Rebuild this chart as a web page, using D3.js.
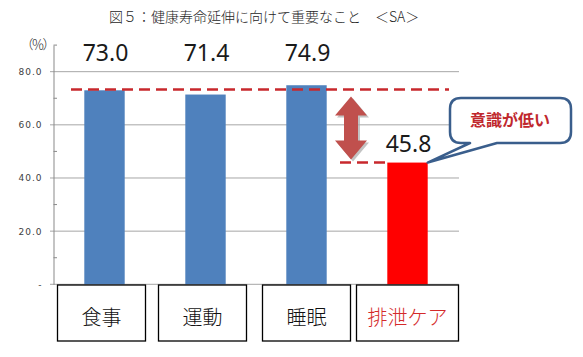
<!DOCTYPE html>
<html><head><meta charset="utf-8">
<script src="https://cdn.jsdelivr.net/npm/d3@7"></script>
<style>
html,body{margin:0;padding:0;background:#fff;}
svg{display:block;}
</style></head>
<body>
<svg id="chart" width="583" height="357"></svg>
<script>
const titleText = "図５：健康寿命延伸に向けて重要なこと　＜SA＞";
const unitLabel = "（％）";
const categories = ["食事", "運動", "睡眠", "排泄ケア"];
const values = [73.0, 71.4, 74.9, 45.8];
const highlight = [false, false, false, true];
const yTicks = [0, 20, 40, 60, 80];
const yTickLabels = ["-", "20.0", "40.0", "60.0", "80.0"];
const minorTicks = [10, 30, 50, 70, 90];
const refValue = 73.3;
const calloutText = "意識が低い";

const svg = d3.select("#chart");
const CJK = "'Noto Sans CJK JP','Noto Sans CJK SC',sans-serif";

const x = d3.scaleBand().domain(categories).range([54, 458]).paddingInner(0.6).paddingOuter(0.3);
const y = d3.scaleLinear().domain([0, 90]).range([284.3, 45.1]);

// title
svg.append("text").attr("x", 109).attr("y", 21.5)
  .attr("font-family", CJK).attr("font-size", 14).attr("font-weight", 300).attr("fill", "#262626")
  .text(titleText);

// gridlines
svg.append("g").selectAll("line").data(yTicks).join("line")
  .attr("x1", 50).attr("x2", 459)
  .attr("y1", d => y(d)).attr("y2", d => y(d))
  .attr("stroke", "#a6a6a6").attr("stroke-width", 1);

// axis
const axis = d3.axisLeft(y).tickValues(yTicks).tickSize(0).tickPadding(11)
  .tickFormat((d, i) => yTickLabels[i]);
const ag = svg.append("g").attr("transform", "translate(53.5,0)").call(axis);
ag.select(".domain").attr("stroke", "#898989");
ag.selectAll("text").attr("font-family", "'DejaVu Sans',sans-serif").attr("font-size", 9)
  .attr("letter-spacing", "1px").attr("fill", "#404040");
svg.append("g").selectAll("line").data(minorTicks).join("line")
  .attr("x1", 53.5).attr("x2", 57)
  .attr("y1", d => y(d)).attr("y2", d => y(d))
  .attr("stroke", "#898989");

svg.append("text").attr("x", 37).attr("y", 49)
  .attr("text-anchor", "middle").attr("font-family", CJK).attr("font-size", 13)
  .attr("font-weight", 300).attr("letter-spacing", "-2px").attr("fill", "#262626").text(unitLabel);

// bars
svg.append("g").selectAll("rect").data(values).join("rect")
  .attr("x", (d, i) => x(categories[i]))
  .attr("width", x.bandwidth())
  .attr("y", d => y(d))
  .attr("height", d => y(0) - y(d))
  .attr("fill", (d, i) => highlight[i] ? "#ff0000" : "#4f81bd");

// value labels
svg.append("g").selectAll("text").data(values).join("text")
  .attr("x", (d, i) => x(categories[i]) + x.bandwidth() / 2 + 1)
  .attr("y", (d, i) => highlight[i] ? y(d) - 11 : 61)
  .attr("text-anchor", "middle")
  .attr("font-family", "'Noto Sans','Open Sans',sans-serif").attr("font-size", 23)
  .attr("fill", "#1a1a1a")
  .text(d => d.toFixed(1));

// category label boxes
const lab = svg.append("g").selectAll("g").data(categories).join("g");
lab.append("rect")
  .attr("x", (d, i) => x(d) + x.bandwidth() / 2 - (d.length > 2 ? 51 : 44) - (i < 2 ? 3 : 0))
  .attr("width", d => d.length > 2 ? 102 : 88)
  .attr("y", 285).attr("height", 56)
  .attr("fill", "#fff").attr("stroke", "#000").attr("stroke-width", 1.3);
lab.append("text")
  .attr("x", (d, i) => x(d) + x.bandwidth() / 2 - (i < 2 ? 3 : 0))
  .attr("y", 325)
  .attr("text-anchor", "middle").attr("font-family", CJK).attr("font-size", 20)
  .attr("font-weight", 300)
  .attr("fill", (d, i) => highlight[i] ? "#d42a2a" : "#111")
  .text(d => d);

// reference dashed lines
const hi = highlight.indexOf(true);
const hiCat = categories[hi];
svg.append("line").attr("x1", 71).attr("x2", 449)
  .attr("y1", y(refValue)).attr("y2", y(refValue))
  .attr("stroke", "#c8282d").attr("stroke-width", 2.5).attr("stroke-dasharray", "11,6");
svg.append("line").attr("x1", 340).attr("x2", x(hiCat))
  .attr("y1", y(values[hi])).attr("y2", y(values[hi]))
  .attr("stroke", "#c8282d").attr("stroke-width", 2.5).attr("stroke-dasharray", "11,6");

// double arrow
const ax = 351, aTop = y(refValue) + 7, aBot = y(values[hi]) - 3;
const hw = 16, sw = 7, hl = 19;
const arrowPath = `M${ax},${aTop} L${ax + hw},${aTop + hl} L${ax + sw},${aTop + hl} L${ax + sw},${aBot - hl} L${ax + hw},${aBot - hl} L${ax},${aBot} L${ax - hw},${aBot - hl} L${ax - sw},${aBot - hl} L${ax - sw},${aTop + hl} L${ax - hw},${aTop + hl} Z`;
svg.append("path").attr("d", arrowPath).attr("fill", "#a9a9a9").attr("opacity", 0.7)
  .attr("transform", "translate(2,2)");
svg.append("path").attr("d", arrowPath).attr("fill", "#c0504d");

// callout
const cx0 = 450, cy0 = 98, cx1 = 571, cy1 = 143, r = 11;
const tipX = x(hiCat) + x.bandwidth(), tipY = y(values[hi]);
const ta = 470, tb = 497;
const callPath = `M${cx0 + r},${cy0} H${cx1 - r} Q${cx1},${cy0} ${cx1},${cy0 + r} V${cy1 - r} Q${cx1},${cy1} ${cx1 - r},${cy1} H${tb} L${tipX},${tipY} L${ta},${cy1} H${cx0 + r} Q${cx0},${cy1} ${cx0},${cy1 - r} V${cy0 + r} Q${cx0},${cy0} ${cx0 + r},${cy0} Z`;
svg.append("path").attr("d", callPath).attr("fill", "#fff")
  .attr("stroke", "#3a5e8c").attr("stroke-width", 2.5).attr("stroke-linejoin", "round");
svg.append("text").attr("x", 510).attr("y", 126)
  .attr("text-anchor", "middle").attr("font-family", CJK).attr("font-size", 16)
  .attr("font-weight", "bold").attr("fill", "#c0282d").text(calloutText);
</script>
</body></html>
